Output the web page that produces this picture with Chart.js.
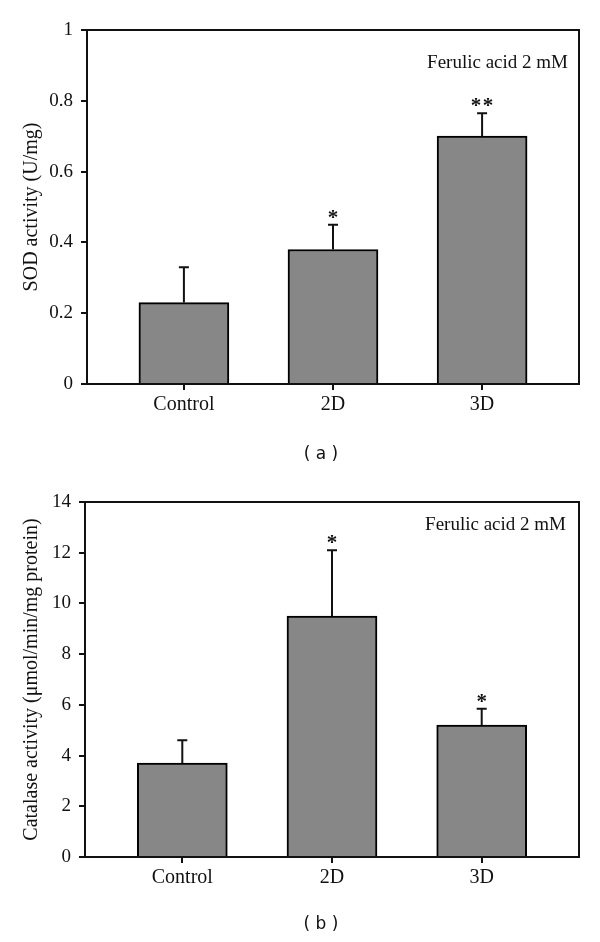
<!DOCTYPE html>
<html>
<head>
<meta charset="utf-8">
<script src="https://cdn.jsdelivr.net/npm/chart.js@4"></script>
<style>
  body { margin:0; background:#fff; }
  .panel { position:absolute; left:0; width:600px; height:471px; }
</style>
</head>
<body>
<div class="panel" style="top:0"><canvas id="sodChart" width="600" height="471"></canvas></div>
<div class="panel" style="top:471px"><canvas id="catChart" width="600" height="471"></canvas></div>
<script>
const categories = ["Control", "2D", "3D"];

// (a) SOD
const sodMean = [0.23, 0.38, 0.70];
const sodErr = [0.10, 0.07, 0.065];
const sodStars = ["", "*", "**"];
const sodTicks = [0, 0.2, 0.4, 0.6, 0.8, 1];

// (b) catalase
const catMean = [3.7, 9.5, 5.2];
const catErr = [0.9, 2.6, 0.65];
const catStars = ["", "*", "*"];
const catTicks = [0, 2, 4, 6, 8, 10, 12, 14];

const serif = "'Liberation Serif', 'Times New Roman', serif";
const ink = "#111";

// error bars, stars, frame, note and panel letter
const extras = {
  id: "extras",
  afterDatasetsDraw(chart, args, o) {
    const {ctx, chartArea: a, scales: {x, y}} = chart;
    ctx.save();
    ctx.strokeStyle = ink;
    ctx.fillStyle = ink;
    ctx.lineWidth = 2;
    o.mean.forEach((m, i) => {
      const px = x.getPixelForValue(i);
      const y0 = y.getPixelForValue(m);
      const y1 = y.getPixelForValue(m + o.err[i]);
      ctx.beginPath();
      ctx.moveTo(px, y0); ctx.lineTo(px, y1);
      ctx.moveTo(px - 5, y1); ctx.lineTo(px + 5, y1);
      ctx.stroke();
      if (o.stars[i]) {
        // stars are drawn one by one so they sit a little apart, as in the figure
        ctx.font = "bold 21px " + serif;
        ctx.textAlign = "center";
        ctx.textBaseline = "alphabetic";
        const n = o.stars[i].length;
        const mt = ctx.measureText("*");
        const cy = y1 - 11;
        const by = cy + (mt.actualBoundingBoxAscent - mt.actualBoundingBoxDescent) / 2;
        for (let k = 0; k < n; k++) {
          ctx.fillText("*", px + (k - (n - 1) / 2) * 12, by);
        }
      }
    });
    // box
    ctx.strokeRect(a.left, a.top, a.right - a.left, a.bottom - a.top);
    // note
    ctx.font = "19px " + serif;
    ctx.textAlign = "right";
    ctx.textBaseline = "middle";
    ctx.fillText("Ferulic acid 2 mM", a.right - o.noteDx, a.top + o.noteDy);
    // panel letter
    ctx.font = "17px 'DejaVu Sans', sans-serif";
    ctx.textAlign = "center";
    ctx.fillText(o.letter, 321, o.letterY);
    ctx.restore();
  }
};

function makeChart(id, mean, ticks, yMax, yTitle, cfg) {
  return new Chart(document.getElementById(id), {
    type: "bar",
    data: {
      datasets: [{
        data: mean.map((v, i) => ({x: i, y: v})),
        backgroundColor: "#878787",
        borderColor: "#000",
        borderWidth: 2,
        barThickness: 90
      }]
    },
    options: {
      responsive: false,
      animation: false,
      layout: { padding: { top: cfg.top, right: 21, left: 0, bottom: 0 } },
      plugins: {
        legend: { display: false },
        tooltip: { enabled: false },
        extras: cfg.extras
      },
      scales: {
        x: {
          type: "linear",
          offset: false,
          min: -0.65, max: 2.65,
          afterBuildTicks: s => { s.ticks = categories.map((_, i) => ({value: i})); },
          afterFit: s => { s.height = cfg.xHeight; },
          ticks: {
            callback: v => categories[v],
            color: ink, padding: 3,
            font: { family: serif, size: 20 }
          },
          grid: { offset: false, drawOnChartArea: false, tickLength: 6, lineWidth: 2, color: ink },
          border: { display: false }
        },
        y: {
          min: 0, max: yMax,
          afterBuildTicks: s => { s.ticks = ticks.map(v => ({value: v})); },
          afterFit: s => { s.width = cfg.yWidth; },
          ticks: { color: ink, padding: 8, font: { family: serif, size: 19 }, callback: v => String(v) },
          grid: { drawOnChartArea: false, tickLength: 6, lineWidth: 2, color: ink },
          border: { display: false },
          title: {
            display: true, text: yTitle, color: ink,
            font: { family: serif, size: 20 },
            padding: { top: 20, bottom: 0 }
          }
        }
      }
    },
    plugins: [extras]
  });
}

makeChart("sodChart", sodMean, sodTicks, 1, "SOD activity (U/mg)", {
  top: 30, xHeight: 87, yWidth: 87,
  extras: { mean: sodMean, err: sodErr, stars: sodStars, noteDx: 11, noteDy: 33, letter: "( a )", letterY: 455 }
});

makeChart("catChart", catMean, catTicks, 14, "Catalase activity (\u03bcmol/min/mg protein)", {
  top: 31, xHeight: 85, yWidth: 85,
  extras: { mean: catMean, err: catErr, stars: catStars, noteDx: 13, noteDy: 23, letter: "( b )", letterY: 454 }
});
</script>
</body>
</html>
